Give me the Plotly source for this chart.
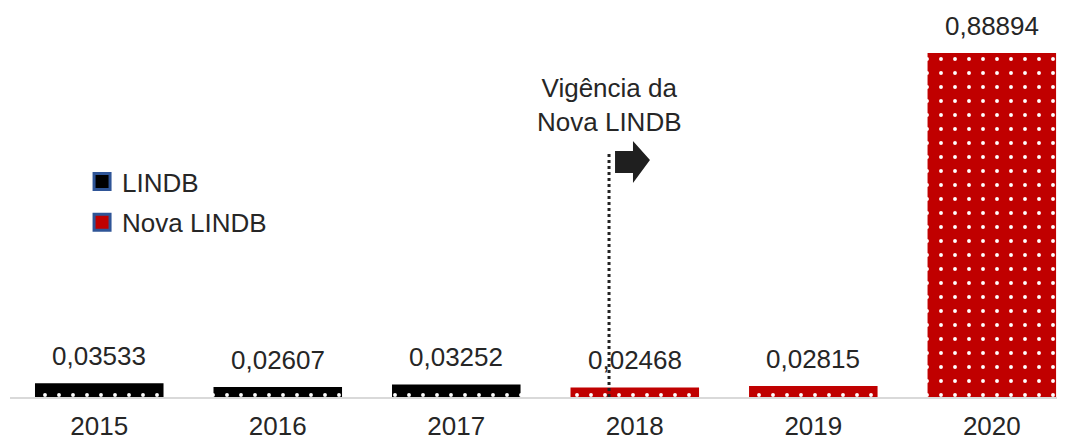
import plotly.graph_objects as go

# data
anos_lindb = ["2015", "2016", "2017"]
valores_lindb = [0.03533, 0.02607, 0.03252]
anos_nova = ["2018", "2019", "2020"]
valores_nova = [0.02468, 0.02815, 0.88894]
anos = anos_lindb + anos_nova

PRETO = "#000000"
VERMELHO = "#c00000"
BORDA = "#2f5597"
TEXTO = "#262626"
FONTE = "Liberation Sans, Arial, sans-serif"


def rotulo(v):
   return f"{v:.5f}".replace(".", ",")


def padrao(cor):
   return dict(shape=".", bgcolor=cor, fgcolor="white", size=14, solidity=0.06, fillmode="replace")


fig = go.Figure()

fig.add_trace(go.Bar(
   x=anos_lindb, y=valores_lindb,
   marker=dict(color=PRETO, pattern=padrao(PRETO), line=dict(width=0)),
   showlegend=False,
))
fig.add_trace(go.Bar(
   x=anos_nova, y=valores_nova,
   marker=dict(color=VERMELHO, pattern=padrao(VERMELHO), line=dict(width=0)),
   showlegend=False,
))

# legend entries only
for nome, cor in [("LINDB", PRETO), ("Nova LINDB", VERMELHO)]:
   fig.add_trace(go.Scatter(
      x=[None], y=[None], mode="markers", name=nome, legendgroup=nome,
      marker=dict(symbol="square", size=16, color=cor, line=dict(color=BORDA, width=3)),
   ))

# data labels (x by category index)
for grupo, vals in [(anos_lindb, valores_lindb), (anos_nova, valores_nova)]:
   for a, v in zip(grupo, vals):
      fig.add_annotation(x=anos.index(a), y=v, text=rotulo(v), showarrow=False,
                         yanchor="bottom", yshift=10,
                         font=dict(size=26, color=TEXTO, family=FONTE))

# start of the new law
fig.add_shape(type="line", xref="paper", yref="paper",
              x0=0.5678, x1=0.5678, y0=0, y1=0.6305,
              line=dict(color="#222222", width=3, dash="dot"))
fig.add_shape(type="path", xref="paper", yref="paper",
              path="M0.5735,0.6357 L0.5905,0.6357 L0.5905,0.6615 L0.6066,0.6124 "
                   "L0.5905,0.5530 L0.5905,0.5788 L0.5735,0.5788 Z",
              fillcolor="#1f1f1f", line=dict(width=0))
fig.add_annotation(xref="paper", yref="paper", x=0.5678, y=0.7545,
                   xanchor="center", yanchor="middle", align="center",
                   text="Vigência da<br>Nova LINDB", showarrow=False,
                   font=dict(size=26, color=TEXTO, family=FONTE))

fig.update_layout(
   width=1057, height=432,
   margin=dict(l=2, r=0, t=2, b=43),
   paper_bgcolor="white", plot_bgcolor="white",
   barmode="overlay", bargap=0.28,
   font=dict(family=FONTE, size=26, color=TEXTO),
   legend=dict(x=0.0683, y=0.6176, xanchor="left", yanchor="top",
               font=dict(size=26), tracegroupgap=4, bgcolor="rgba(0,0,0,0)"),
)
fig.update_xaxes(type="category", categoryorder="array", categoryarray=anos,
                 range=[-0.5, 5.41], showline=True, linecolor="#d9d9d9",
                 linewidth=1.5, showgrid=False, ticks="outside", ticklen=5,
                 tickcolor="rgba(0,0,0,0)", automargin=False,
                 tickfont=dict(size=26, color=TEXTO))
fig.update_yaxes(range=[0, 1.0], visible=False, showgrid=False, automargin=False)

fig.write_html("out.html")
